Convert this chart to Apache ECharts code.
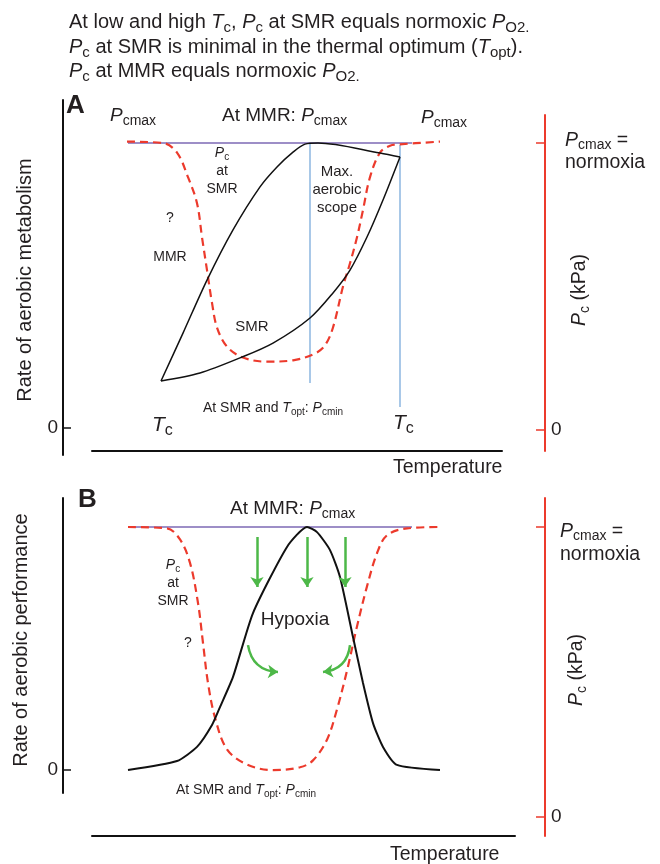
<!DOCTYPE html>
<html><head><meta charset="utf-8">
<script src="https://cdn.jsdelivr.net/npm/echarts@6/dist/echarts.min.js"></script>
<style>html,body{margin:0;padding:0;background:#fff}#c{width:660px;height:864px}</style>
</head><body><div id="c"></div>
<script>
// ---------- DATA ----------
const PCMAX = 21;                 // Pc max = normoxia (kPa)
// Panel A: temperature (arbitrary units) vs rate of aerobic metabolism (0-100) and Pc (kPa)
const smrPcA_T = [3.5, 7.1, 8.5, 9.6, 10.5, 11.0, 11.5, 12.0, 12.5, 13.5, 15.1, 17.5, 20.1, 22.3, 23.3, 24.1, 25.1, 25.8, 26.5, 27.1, 27.8, 28.8, 29.8, 30.8, 34.8];
const smrPcA   = [21.1, 21.0, 20.3, 18.5, 16.6, 14.1, 11.7, 9.3, 7.5, 6.1, 5.3, 5.0, 5.1, 5.6, 6.2, 7.5, 10.5, 12.2, 14.1, 16.1, 18.5, 20.3, 20.8, 20.9, 21.1];
const mmrA_T = [6.9, 9.1, 11.5, 14.1, 16.8, 18.5, 20.1, 21.3, 22.6, 28.8, 30.8];
const mmrA   = [16.5, 33.3, 51.9, 69.5, 84.6, 91.6, 96.8, 99.6, 100, 96.5, 95.1];
const smrA_T = [6.9, 10.8, 14.8, 18.1, 21.8, 24.1, 25.8, 27.5, 29.1, 30.8];
const smrA   = [16.5, 19.3, 24.6, 29.8, 38.6, 47.4, 55.4, 67.0, 80.0, 95.1];
const toptA = 21.8, toptA_R = [100, 15.8];
const tcHighA = 30.8, tcHighA_R = [99.3, 7.4];
const pcmaxSpanA = [3.6, 32.0];
// Panel B
const smrPcB_T = [3.6, 7.5, 8.8, 9.8, 10.6, 11.1, 11.6, 12.3, 13.5, 15.5, 18.1, 20.8, 22.1, 23.5, 24.5, 25.5, 26.5, 27.5, 28.5, 29.5, 31.5, 34.8];
const smrPcB   = [21.0, 20.9, 20.1, 18.4, 15.5, 12.6, 9.7, 7.2, 4.9, 3.8, 3.4, 3.6, 4.1, 5.6, 7.8, 10.6, 13.8, 16.7, 19.1, 20.4, 20.9, 21.0];
const perfB_T = [3.6, 8.5, 10.5, 12.0, 12.8, 14.1, 16.1, 19.5, 21.5, 22.5, 23.8, 24.8, 26.1, 27.1, 28.1, 29.1, 30.5, 34.8];
const perfB   = [0, 3.7, 9.5, 18.5, 25.9, 38.3, 64.6, 91.8, 100, 97.9, 90.5, 79.4, 54.7, 35.8, 19.3, 9.5, 2.1, 0];
const pcmaxSpanB = [3.6, 32.0];
const hypoxiaDownT = [16.5, 21.5, 25.3];
const hypoxiaDownR = [95.9, 75.3];
const hypoxiaCurveL = [[15.6, 51.4], [18.6, 40.3]];
const hypoxiaCurveR = [[25.8, 51.4], [23.1, 40.3]];
const zeroTick = [0];

// ---------- STYLE / LAYOUT ----------
const FONT = '"Liberation Sans", Arial, Helvetica, sans-serif';
const INK = '#231f20', RED = '#ec3a2c', PURPLE = '#9d8ec7', BLUE = '#6fa3d8', GREEN = '#4db848', BLACK = '#111111';
function rng(v0, p0, v1, p1, top, bottom) { const k = (v1 - v0) / (p0 - p1); return { min: v0 - (bottom - p0) * k, max: v1 + (p1 - top) * k }; }
const xy = (T, V) => T.map((t, i) => [t, V[i]]);

// grids
const GA = { left: 92, top: 100, width: 410, height: 355 };
const GAr = { left: 500, top: 115, width: 45, height: 336 };
const GB = { left: 92, top: 498, width: 423, height: 295 };
const GBr = { left: 500, top: 498, width: 45, height: 338 };
const rateA = rng(0, 428, 100, 143, GA.top, GA.top + GA.height);
const pcA = rng(0, 430, PCMAX, 143, GA.top, GA.top + GA.height);
const pcAr = rng(0, 430, PCMAX, 143, GAr.top, GAr.top + GAr.height);
const rateB = rng(0, 770, 100, 527, GB.top, GB.top + GB.height);
const pcB = rng(0, 817, PCMAX, 527, GB.top, GB.top + GB.height);
const pcBr = rng(0, 817, PCMAX, 527, GBr.top, GBr.top + GBr.height);

function label(x, y, text, S, o) {
  o = o || {};
  const L = o.lh || Math.round(S * 1.3);
  const s = o.sub || Math.round(S * 0.74);
  const fill = o.color || INK;
  return { type: 'text', x: x, y: y, rotation: o.rot || 0, z: 100, silent: true,
    style: { text: text, fontFamily: FONT, fontSize: S, fontWeight: o.bold ? 'bold' : 'normal', fill: fill,
      align: o.align || 'left', verticalAlign: 'middle', lineHeight: L,
      rich: {
        i: { fontStyle: 'italic', fontSize: S, lineHeight: L, fontFamily: FONT, fill: fill },
        s: { fontSize: s, lineHeight: s, verticalAlign: 'bottom', fontFamily: FONT, fill: fill }
      } } };
}

const texts = [
  label(69, 22, 'At low and high {i|T}{s|c}, {i|P}{s|c} at SMR equals normoxic {i|P}{s|O2.}', 20),
  label(69, 47, '{i|P}{s|c} at SMR is minimal in the thermal optimum ({i|T}{s|opt}).', 20),
  label(69, 71, '{i|P}{s|c} at MMR equals normoxic {i|P}{s|O2.}', 20),
  // Panel A
  label(66, 106, 'A', 26, { bold: true }),
  label(110, 116, '{i|P}{s|cmax}', 19),
  label(222, 116, 'At MMR: {i|P}{s|cmax}', 19),
  label(421, 118, '{i|P}{s|cmax}', 19),
  label(222, 171, '{i|P}{s|c}\nat\nSMR', 14, { align: 'center', lh: 18 }),
  label(170, 218, '?', 14, { align: 'center' }),
  label(170, 257, 'MMR', 14, { align: 'center' }),
  label(337, 190, 'Max.\naerobic\nscope', 15, { align: 'center', lh: 18 }),
  label(252, 327, 'SMR', 15, { align: 'center' }),
  label(203, 408, 'At SMR and {i|T}{s|opt}: {i|P}{s|cmin}', 14),
  label(152, 425, '{i|T}{s|c}', 21),
  label(393, 423, '{i|T}{s|c}', 21),
  label(393, 468, 'Temperature', 19.5),
  label(565, 152, '{i|P}{s|cmax} =\nnormoxia', 19.5, { lh: 22 }),
  label(580, 290, '{i|P}{s|c} (kPa)', 19.5, { align: 'center', rot: Math.PI / 2 }),
  label(25, 280, 'Rate of aerobic metabolism', 20, { align: 'center', rot: Math.PI / 2 }),
  // Panel B
  label(78, 500, 'B', 26, { bold: true }),
  label(230, 509, 'At MMR: {i|P}{s|cmax}', 19),
  label(295, 620, 'Hypoxia', 19, { align: 'center' }),
  label(173, 583, '{i|P}{s|c}\nat\nSMR', 14, { align: 'center', lh: 18 }),
  label(188, 643, '?', 14, { align: 'center' }),
  label(176, 790, 'At SMR and {i|T}{s|opt}: {i|P}{s|cmin}', 14),
  label(390, 855, 'Temperature', 19.5),
  label(560, 543, '{i|P}{s|cmax} =\nnormoxia', 19.5, { lh: 23 }),
  label(577, 670, '{i|P}{s|c} (kPa)', 19.5, { align: 'center', rot: Math.PI / 2 }),
  label(21, 640, 'Rate of aerobic performance', 20, { align: 'center', rot: Math.PI / 2 })
];

const hiddenX = (g, max) => ({ type: 'value', gridIndex: g, min: 0, max: max, show: false, axisLine: { onZero: false } });
const visX = (g, max, off) => ({ type: 'value', gridIndex: g, min: 0, max: max, position: 'bottom', offset: off,
  axisLine: { show: true, onZero: false, lineStyle: { color: BLACK, width: 2 } }, axisTick: { show: false }, axisLabel: { show: false }, splitLine: { show: false } });
const rateY = (g, r) => ({ type: 'value', gridIndex: g, min: r.min, max: r.max, position: 'left', offset: 29,
  axisLine: { show: true, onZero: false, lineStyle: { color: BLACK, width: 2 } },
  axisTick: { show: true, inside: true, length: 8, customValues: zeroTick, lineStyle: { color: BLACK, width: 1.5 } },
  axisLabel: { show: true, customValues: zeroTick, margin: 5, color: INK, fontSize: 19, fontFamily: FONT },
  splitLine: { show: false } });
const hiddenY = (g, r) => ({ type: 'value', gridIndex: g, min: r.min, max: r.max, position: 'right', show: false, axisLine: { onZero: false }, splitLine: { show: false } });
const redY = (g, r) => ({ type: 'value', gridIndex: g, min: r.min, max: r.max, position: 'right',
  axisLine: { show: true, onZero: false, lineStyle: { color: RED, width: 2 } },
  axisTick: { show: true, inside: true, length: 9, customValues: [0, PCMAX], lineStyle: { color: RED, width: 1.5 } },
  axisLabel: { show: true, customValues: zeroTick, margin: 6, color: INK, fontSize: 19, fontFamily: FONT },
  splitLine: { show: false } });

const lineS = (xi, yi, data, color, width, extra) => Object.assign({ type: 'line', xAxisIndex: xi, yAxisIndex: yi, data: data,
  symbol: 'none', silent: true, clip: false, lineStyle: { color: color, width: width }, z: 3 }, extra || {});
const arrow = (coords, curv) => ({ coords: coords, lineStyle: { curveness: curv } });

const option = {
  animation: false,
  backgroundColor: '#ffffff',
  grid: [
    Object.assign({ outerBoundsMode: 'none', containLabel: false }, GA),
    Object.assign({ outerBoundsMode: 'none', containLabel: false }, GAr),
    Object.assign({ outerBoundsMode: 'none', containLabel: false }, GB),
    Object.assign({ outerBoundsMode: 'none', containLabel: false }, GBr)
  ],
  xAxis: [visX(0, 41, -4), hiddenX(1, 1), visX(2, 42.3, 43), hiddenX(3, 1)],
  yAxis: [rateY(0, rateA), hiddenY(0, pcA), redY(1, pcAr), rateY(2, rateB), hiddenY(2, pcB), redY(3, pcBr)],
  graphic: texts,
  series: [
    // Panel A
    lineS(0, 1, [[pcmaxSpanA[0], PCMAX], [pcmaxSpanA[1], PCMAX]], PURPLE, 2, { z: 1 }),
    lineS(0, 0, [[toptA, toptA_R[0]], [toptA, toptA_R[1]]], BLUE, 1.2, { z: 2 }),
    lineS(0, 0, [[tcHighA, tcHighA_R[0]], [tcHighA, tcHighA_R[1]]], BLUE, 1.2, { z: 2 }),
    lineS(0, 1, xy(smrPcA_T, smrPcA), RED, 2.2, { smooth: 0.35, lineStyle: { color: RED, width: 2.2, type: [8, 5] } }),
    lineS(0, 0, xy(mmrA_T, mmrA), BLACK, 1.5, { smooth: 0.3 }),
    lineS(0, 0, xy(smrA_T, smrA), BLACK, 1.5, { smooth: 0.3 }),
    // Panel B
    lineS(2, 4, [[pcmaxSpanB[0], PCMAX], [pcmaxSpanB[1], PCMAX]], PURPLE, 2, { z: 1 }),
    lineS(2, 4, xy(smrPcB_T, smrPcB), RED, 2.2, { smooth: 0.35, lineStyle: { color: RED, width: 2.2, type: [8, 5] } }),
    lineS(2, 3, xy(perfB_T, perfB), BLACK, 2, { smooth: 0.2 }),
    { type: 'lines', coordinateSystem: 'cartesian2d', xAxisIndex: 2, yAxisIndex: 3, silent: true, z: 4,
      symbol: ['none', 'arrow'], symbolSize: 10,
      lineStyle: { color: GREEN, width: 2.5, opacity: 1 },
      data: hypoxiaDownT.map(t => arrow([[t, hypoxiaDownR[0]], [t, hypoxiaDownR[1]]], 0))
        .concat([arrow(hypoxiaCurveL, -0.4), arrow(hypoxiaCurveR, 0.4)]) }
  ]
};
const chart = echarts.init(document.getElementById('c'), null, { renderer: 'canvas', width: 660, height: 864 });
chart.setOption(option);
</script></body></html>
